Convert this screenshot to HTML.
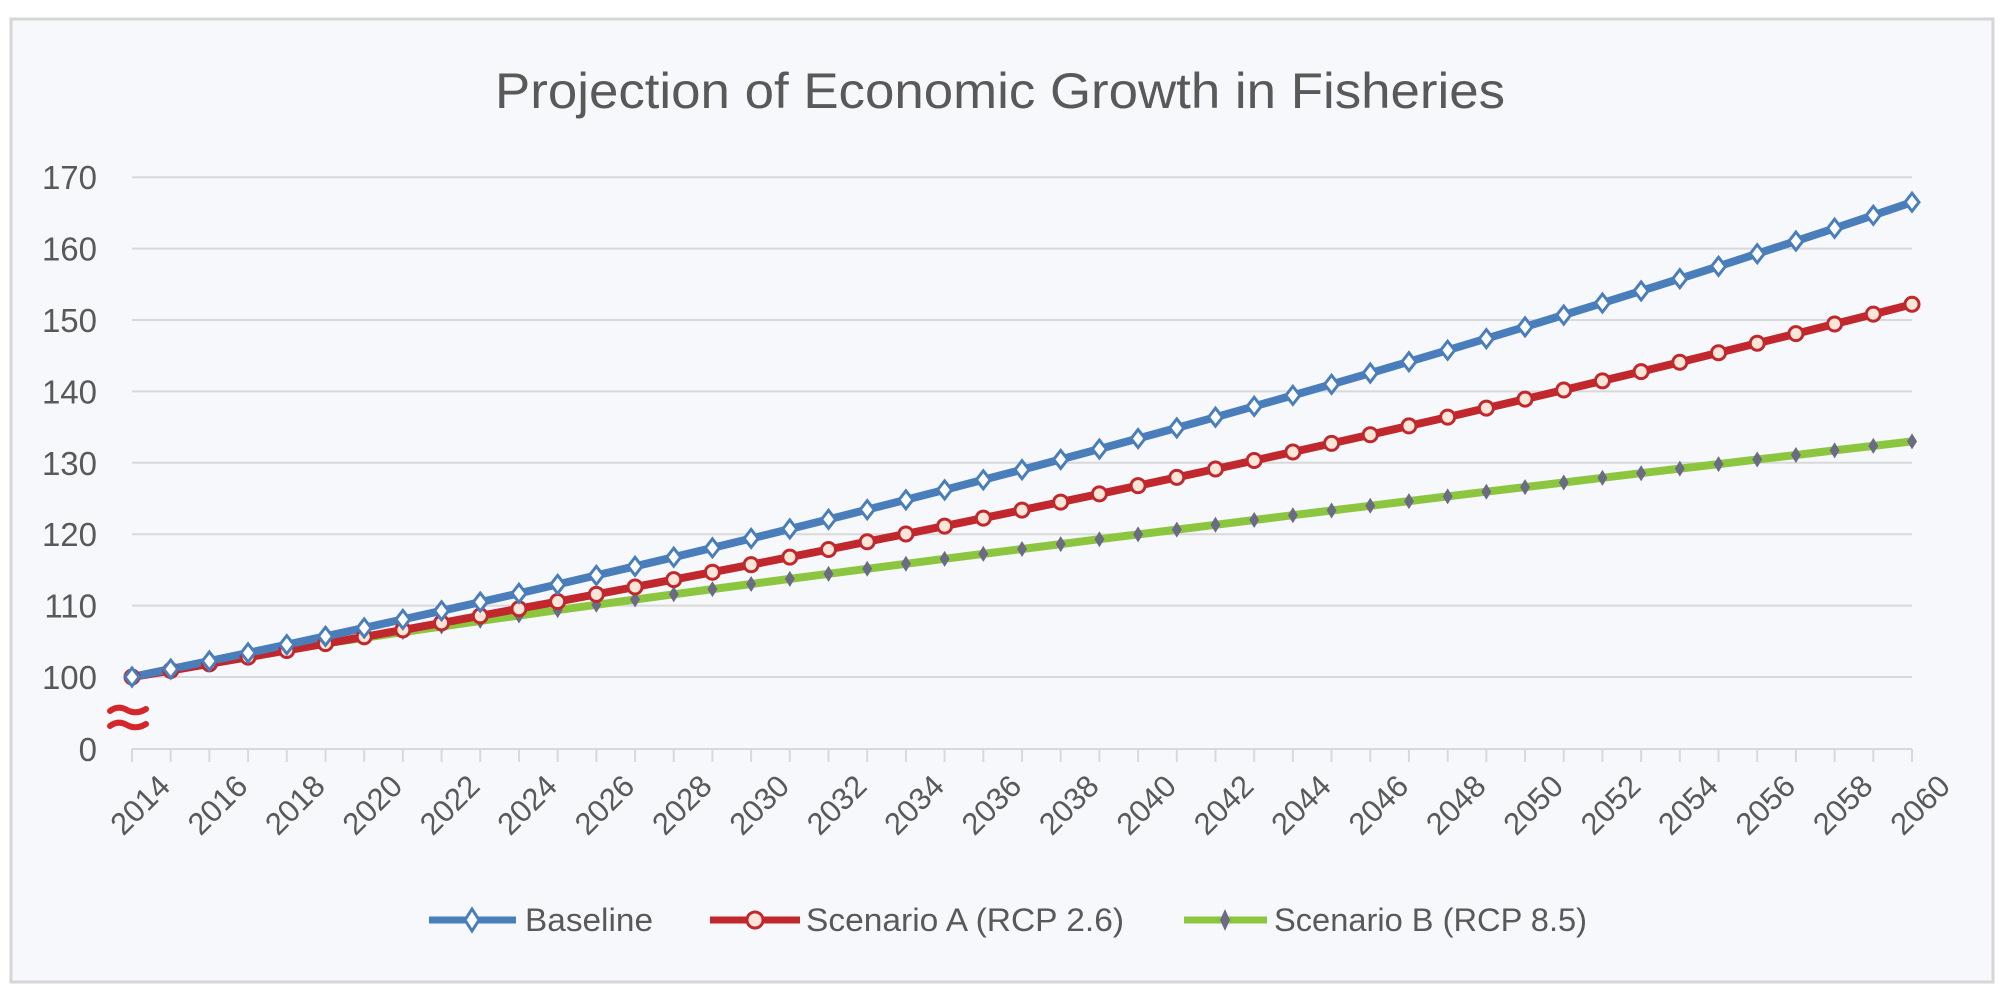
<!DOCTYPE html>
<html><head><meta charset="utf-8"><style>
html,body{margin:0;padding:0;background:#fff;}
svg{display:block;}
text{font-family:"Liberation Sans",sans-serif;fill:#595959;}
</style></head><body>
<svg id="c" width="2008" height="1003" xmlns="http://www.w3.org/2000/svg">
<rect x="11" y="19" width="1982" height="963" fill="#f6f8fb" stroke="#d6d6d6" stroke-width="3"/>
<text x="1000" y="108" font-size="50" text-anchor="middle" textLength="1010" lengthAdjust="spacingAndGlyphs">Projection of Economic Growth in Fisheries</text>
<g id="g"></g>
<g font-size="32">
<line x1="429" y1="920" x2="516" y2="920" stroke="#4a7ebb" stroke-width="7"/>
<path d="M472 909 L479 920 L472 931 L465 920 Z" fill="#fff" stroke="#4a7ebb" stroke-width="3"/>
<text x="525" y="931" textLength="128" lengthAdjust="spacingAndGlyphs">Baseline</text>
<line x1="710" y1="920" x2="800" y2="920" stroke="#c0282d" stroke-width="7"/>
<circle cx="755" cy="920" r="8" fill="#fde6d8" stroke="#c0282d" stroke-width="3"/>
<text x="806" y="931" textLength="318" lengthAdjust="spacingAndGlyphs">Scenario A (RCP 2.6)</text>
<line x1="1184" y1="920" x2="1267" y2="920" stroke="#8cc63f" stroke-width="7"/>
<path d="M1225 909 L1230 920 L1225 931 L1220 920 Z" fill="#6b6b86"/>
<text x="1274" y="931" textLength="313" lengthAdjust="spacingAndGlyphs">Scenario B (RCP 8.5)</text>
</g>
<g fill="none" stroke="#d4262b" stroke-width="6" stroke-linecap="round">
<path d="M110 711 Q118 705 127 710 Q136 715 146 709"/>
<path d="M110 726 Q118 720 127 725 Q136 730 146 724"/>
</g>
</svg>
<script>
var g=document.getElementById('g'),s='';
var X0=132,DX=(1912-132)/46;
function Y(v){return 677-(v-100)*7.14;}
var grid=[170,160,150,140,130,120,110,100];
grid.forEach(function(v){var y=Y(v);s+='<line x1="132" y1="'+y+'" x2="1912" y2="'+y+'" stroke="#d9d9d9" stroke-width="2"/>';
s+='<text x="97" y="'+(y+12)+'" font-size="33" text-anchor="end">'+v+'</text>';});
s+='<line x1="132" y1="749" x2="1912" y2="749" stroke="#d9d9d9" stroke-width="2"/>';
s+='<text x="97" y="761" font-size="33" text-anchor="end">0</text>';
for(var i=0;i<=46;i++){var x=X0+i*DX;s+='<line x1="'+x+'" y1="749" x2="'+x+'" y2="762" stroke="#d9d9d9" stroke-width="2"/>';
if(i%2==0){s+='<text font-size="31" text-anchor="end" transform="translate('+(x+40)+',788) rotate(-45)">'+(2014+i)+'</text>';}}
var rb=Math.pow(1.665,1/46),ra=Math.pow(1.522,1/46);
var B=[],A=[],G=[];
for(var t=0;t<=46;t++){var x=X0+t*DX;
B.push([x,Y(100*Math.pow(rb,t))]);A.push([x,Y(100*Math.pow(ra,t))]);G.push([x,Y(100+33*Math.pow(t/46,0.88))]);}
function line(p,c){return '<polyline points="'+p.map(function(q){return q[0].toFixed(1)+','+q[1].toFixed(1)}).join(' ')+'" fill="none" stroke="'+c+'" stroke-width="8" stroke-linejoin="round"/>';}
s+=line(G,'#8cc63f');s+=line(A,'#c0282d');s+=line(B,'#4a7ebb');
G.forEach(function(q){s+='<path d="M'+q[0]+' '+(q[1]-8)+' l5 8 l-5 8 l-5 -8 Z" fill="#6b6b86"/>';});
A.forEach(function(q){s+='<circle cx="'+q[0]+'" cy="'+q[1]+'" r="7" fill="#fde6d8" stroke="#c0282d" stroke-width="3"/>';});
B.forEach(function(q){s+='<path d="M'+q[0]+' '+(q[1]-9)+' l7 9 l-7 9 l-7 -9 Z" fill="#fff" stroke="#4a7ebb" stroke-width="3"/>';});
g.innerHTML=s;
</script>
</body></html>
